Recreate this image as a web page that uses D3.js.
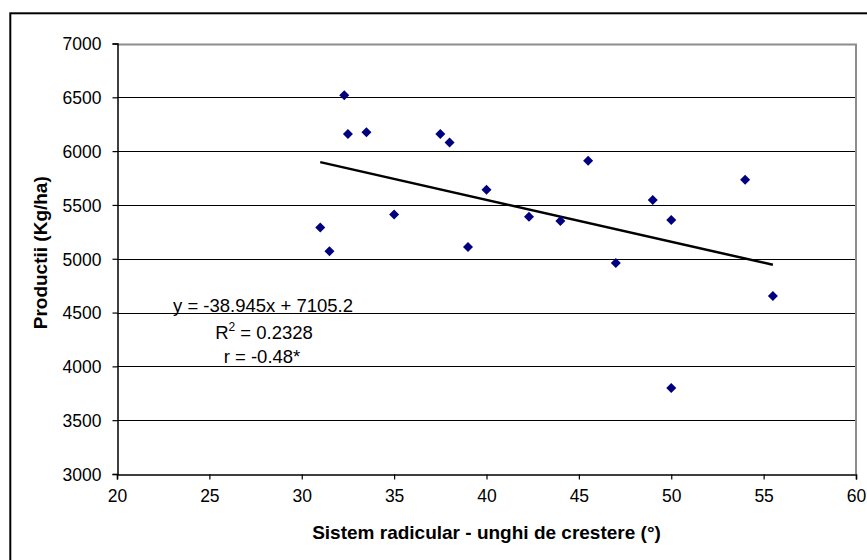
<!DOCTYPE html>
<html>
<head>
<meta charset="utf-8">
<script src="https://cdn.jsdelivr.net/npm/d3@7"></script>
<style>
  html, body { margin: 0; padding: 0; background: #fff; }
  svg { display: block; font-family: Arial, "Liberation Sans", sans-serif; }
</style>
</head>
<body>
<svg id="chart" width="867" height="560"></svg>
<script>
// Data
const angles = [31, 31.5, 32.3, 32.5, 33.5, 35, 37.5, 38, 39, 40, 42.3, 44, 45.5, 47, 49, 50, 50, 54, 55.5];
const yields = [5290, 5070, 6520, 6160, 6175, 5410, 6160, 6080, 5110, 5640, 5390, 5350, 5910, 4960, 5545, 5360, 3800, 5735, 4655];
const xTicks = [20, 25, 30, 35, 40, 45, 50, 55, 60];
const yTicks = [3000, 3500, 4000, 4500, 5000, 5500, 6000, 6500, 7000];
const slope = -38.945, intercept = 7105.2;
const trendRange = [31, 55.5];
const eqLines = ["y = -38.945x + 7105.2", "R", "r = -0.48*"];
const xTitle = "Sistem radicular - unghi de crestere (°)";
const yTitle = "Productii (Kg/ha)";

const svg = d3.select("#chart");
const pLeft = 117, pRight = 856, pTop = 43.5, pBottom = 474;

const x = d3.scaleLinear().domain([20, 60]).range([pLeft, pRight]);
const y = d3.scaleLinear().domain([3000, 7000]).range([pBottom, pTop]);

// outer chart border
svg.append("rect").attr("x", 10.3).attr("y", 13.3).attr("width", 900).attr("height", 600)
  .attr("fill", "none").attr("stroke", "#000").attr("stroke-width", 2);

// gridlines
svg.append("g").selectAll("line").data(yTicks.filter(d => d > 3000 && d < 7000)).join("line")
  .attr("x1", pLeft).attr("x2", pRight)
  .attr("y1", d => Math.round(y(d)) + 0.5).attr("y2", d => Math.round(y(d)) + 0.5)
  .attr("stroke", "#000").attr("stroke-width", 1.2);

// plot area border (top and right, grey)
svg.append("path")
  .attr("d", `M${pLeft},${Math.round(pTop)+0.5}H${pRight}V${pBottom}`)
  .attr("fill", "none").attr("stroke", "#8c8c8c").attr("stroke-width", 2);

// axes
const xAxis = d3.axisBottom(x).tickValues(xTicks).tickSize(5).tickPadding(10).tickFormat(d3.format("d"));
const yAxis = d3.axisLeft(y).tickValues(yTicks).tickSize(5).tickPadding(11).tickFormat(d3.format("d"));

const gx = svg.append("g").attr("transform", `translate(0,${Math.round(pBottom)+0.5})`).call(xAxis);
const gy = svg.append("g").attr("transform", `translate(${Math.round(pLeft)+0.5},0)`).call(yAxis);
[gx, gy].forEach(g => {
  g.select(".domain").attr("stroke", "#000").attr("stroke-width", 1.5);
  g.selectAll(".tick line").attr("stroke", "#000").attr("stroke-width", 1.2);
  g.selectAll(".tick text").attr("fill", "#000").style("font-size", "17.5px")
    .style("font-family", "Arial, 'Liberation Sans', sans-serif");
});
gy.selectAll(".tick text").attr("dy", "0.36em");

// trend line
svg.append("line")
  .attr("x1", x(trendRange[0])).attr("y1", y(slope * trendRange[0] + intercept))
  .attr("x2", x(trendRange[1])).attr("y2", y(slope * trendRange[1] + intercept))
  .attr("stroke", "#000").attr("stroke-width", 2.5);

// points (diamonds)
const pts = angles.map((a, i) => [a, yields[i]]);
svg.append("g").selectAll("path").data(pts).join("path")
  .attr("d", d => {
    const cx = x(d[0]), cy = y(d[1]), r = 5;
    return `M${cx},${cy - r}L${cx + r},${cy}L${cx},${cy + r}L${cx - r},${cy}Z`;
  })
  .attr("fill", "#000080");

// equation text
const eq = svg.append("g").style("font-size", "18.5px").attr("fill", "#000");
eq.append("text").attr("x", 263).attr("y", 312).attr("text-anchor", "middle").text(eqLines[0]);
const r2 = eq.append("text").attr("x", 264).attr("y", 339).attr("text-anchor", "middle");
r2.append("tspan").text(eqLines[1]);
r2.append("tspan").attr("dy", -8).style("font-size", "12px").text("2");
r2.append("tspan").attr("dy", 8).text(" = 0.2328");
eq.append("text").attr("x", 262).attr("y", 363).attr("text-anchor", "middle").text(eqLines[2]);

// axis titles
svg.append("text").attr("x", (pLeft + pRight) / 2).attr("y", 539).attr("text-anchor", "middle")
  .style("font-size", "19px").style("font-weight", "bold").text(xTitle);
svg.append("text").attr("transform", `translate(47,${(pTop + pBottom) / 2 - 6}) rotate(-90)`)
  .attr("text-anchor", "middle").style("font-size", "19px").style("font-weight", "bold").text(yTitle);
</script>
</body>
</html>
